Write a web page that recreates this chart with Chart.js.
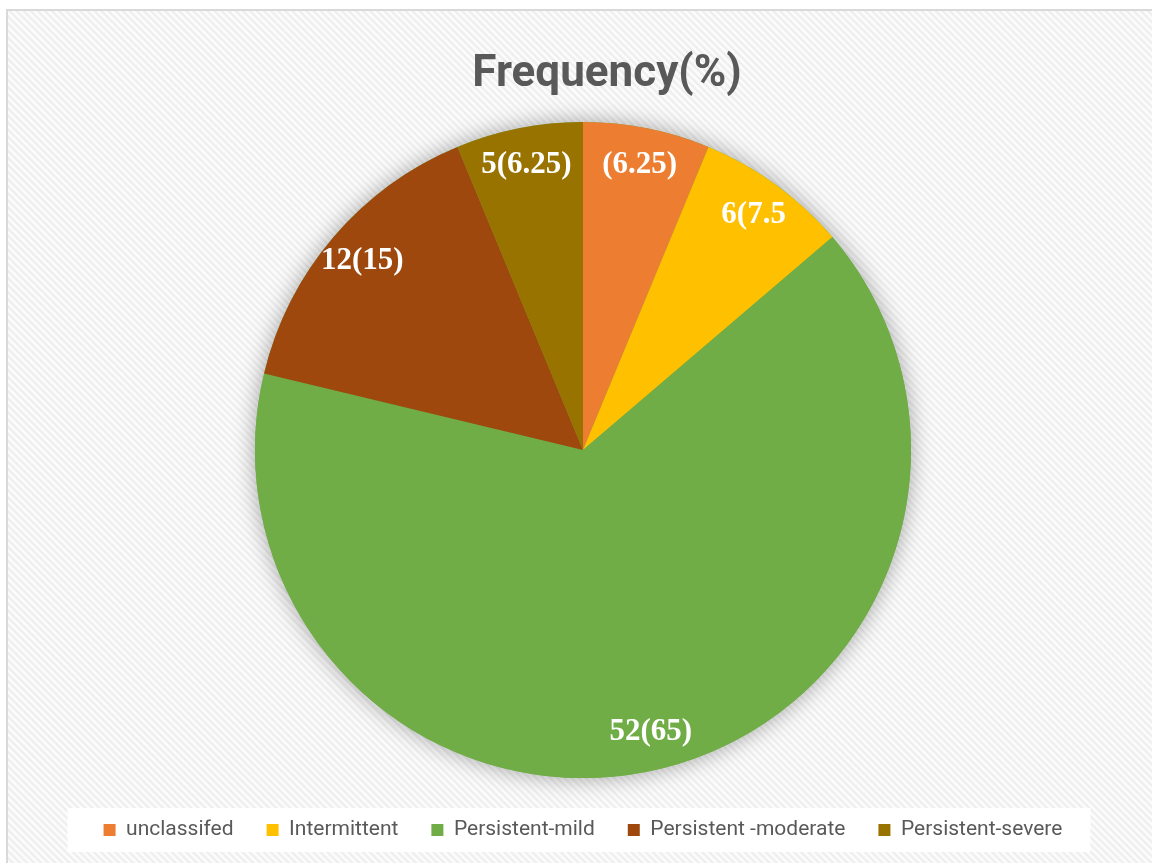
<!DOCTYPE html>
<html>
<head>
<meta charset="utf-8">
<script src="https://cdn.jsdelivr.net/npm/chart.js@4.4.1/dist/chart.umd.min.js"></script>
<style>
  html, body { margin: 0; padding: 0; background: #ffffff; overflow: hidden; }
  #frame {
    position: absolute; left: 6px; top: 9px; width: 1200px; height: 900px;
    border: 2px solid #d9d9d9;
    background: repeating-linear-gradient(45deg, #ffffff 0px, #ececec 2.5px, #ffffff 5px);
  }
  #chart { position: absolute; left: 0; top: 0; }
</style>
</head>
<body>
<div id="frame"></div>
<canvas id="chart" width="1152" height="863"></canvas>
<script>
// Categorie e valori (%)
const categories = ["unclassifed", "Intermittent", "Persistent-mild", "Persistent -moderate", "Persistent-severe"];
const percents = [6.25, 7.5, 65, 15, 6.25];
const sliceLabels = ["(6.25)", "6(7.5", "52(65)", "12(15)", "5(6.25)"];
const colors = ["#ED7D31", "#FFC000", "#70AD47", "#9E480E", "#997300"];
const chartTitle = "Frequency(%)";

// Sfondo bianco della legenda + ombra della torta + titolo
const decorPlugin = {
  id: "decor",
  beforeDraw(chart) {
    const boxes = chart.legend.legendHitBoxes;
    if (!boxes || !boxes.length) return;
    const ctx = chart.ctx;
    const minX = Math.min(...boxes.map(b => b.left));
    const maxX = Math.max(...boxes.map(b => b.left + b.width));
    const midY = boxes[0].top + boxes[0].height / 2;
    ctx.save();
    ctx.fillStyle = "rgba(255,255,255,0.95)";
    ctx.fillRect(minX - 36, midY - 22, (maxX - minX) + 64, 44);
    ctx.restore();
  },
  beforeDatasetsDraw(chart) {
    const arc = chart.getDatasetMeta(0).data[0];
    if (!arc) return;
    const ctx = chart.ctx;
    ctx.save();
    ctx.shadowColor = "rgba(0,0,0,0.35)";
    ctx.shadowBlur = 22;
    ctx.fillStyle = "#70AD47";
    ctx.beginPath();
    ctx.arc(arc.x, arc.y, arc.outerRadius, 0, Math.PI * 2);
    ctx.fill();
    ctx.restore();
  },
  afterDatasetsDraw(chart) {
    const ctx = chart.ctx;
    ctx.save();
    ctx.fillStyle = "#ffffff";
    ctx.font = "bold 31px 'Liberation Serif', 'Times New Roman', serif";
    ctx.textAlign = "center";
    ctx.textBaseline = "middle";
    chart.getDatasetMeta(0).data.forEach((el, i) => {
      const mid = (el.startAngle + el.endAngle) / 2;
      const r = el.outerRadius * 0.885;
      ctx.fillText(sliceLabels[i], el.x + Math.cos(mid) * r, el.y + Math.sin(mid) * r);
    });
    // titolo
    const cx = (chart.chartArea.left + chart.chartArea.right) / 2;
    ctx.fillStyle = "#595959";
    ctx.font = "bold 44px Roboto, 'Noto Sans', sans-serif";
    ctx.fillText(chartTitle, cx + 24, 75);
    ctx.restore();
  }
};

new Chart(document.getElementById("chart"), {
  type: "pie",
  data: {
    labels: categories,
    datasets: [{
      data: percents,
      backgroundColor: colors,
      borderWidth: 0,
      radius: 328
    }]
  },
  options: {
    responsive: false,
    devicePixelRatio: 1,
    animation: false,
    layout: { padding: { top: 113.5, left: 14, right: 0, bottom: 12.5 } },
    plugins: {
      title: { display: false },
      tooltip: { enabled: false },
      legend: {
        position: "bottom",
        labels: {
          boxWidth: 12,
          boxHeight: 12,
          padding: 33,
          color: "#595959",
          font: { family: "Roboto, 'Noto Sans', sans-serif", size: 21 }
        }
      }
    }
  },
  plugins: [decorPlugin]
});
</script>
</body>
</html>
